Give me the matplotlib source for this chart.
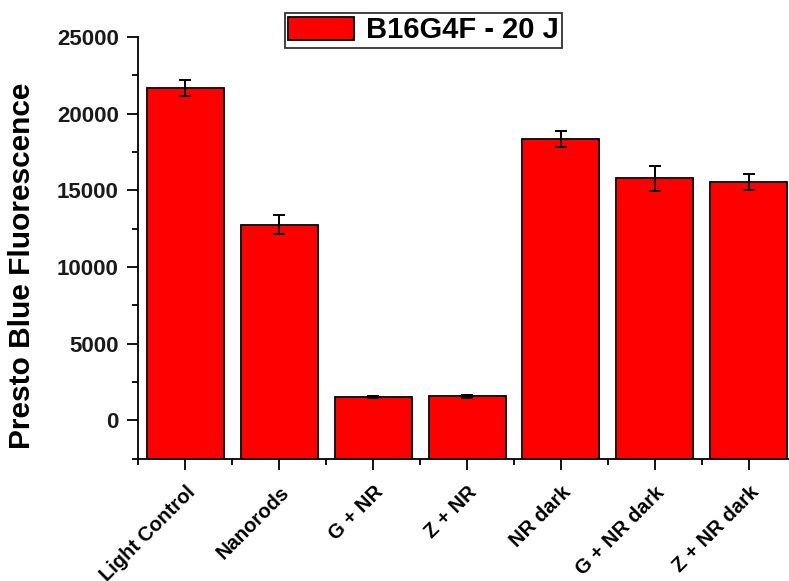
import matplotlib
matplotlib.use("Agg")
import matplotlib.pyplot as plt
from matplotlib.ticker import MultipleLocator
import numpy as np

categories = ["Light Control", "Nanorods", "G + NR", "Z + NR", "NR dark", "G + NR dark", "Z + NR dark"]
values = [21650, 12740, 1540, 1560, 18350, 15780, 15560]
errors = [520, 620, 60, 90, 510, 795, 510]
series_name = "B16G4F - 20 J"

plt.rcParams['font.family'] = ['Liberation Sans', 'DejaVu Sans']
plt.rcParams['font.weight'] = 'bold'

fig = plt.figure(figsize=(7.89, 5.81), dpi=100)
ax = fig.add_axes([138.3/789, 1-459/581, (795.8-138.3)/789, (459-37)/581])

ymin, ymax = -2525, 25000
x = np.arange(len(categories))
heights = [v - ymin for v in values]
ax.bar(x, heights, bottom=ymin, width=0.82, color='#FF0000', edgecolor='black', linewidth=1.3,
       label=series_name, zorder=2)
ax.errorbar(x, values, yerr=errors, fmt='none', ecolor='black', elinewidth=1.4,
            capsize=4, capthick=1.4, zorder=3)

ax.set_xlim(-0.5, 6.5)
ax.set_ylim(ymin, ymax)
ax.yaxis.set_major_locator(MultipleLocator(5000))
ax.yaxis.set_minor_locator(MultipleLocator(2500))
ax.set_xticks(x)
ax.set_xticks(np.arange(-0.5, 6.6, 1.0), minor=True)

ax.spines['top'].set_visible(False)
ax.spines['right'].set_visible(False)
ax.spines['left'].set_linewidth(1.3)
ax.spines['bottom'].set_linewidth(1.3)

ax.tick_params(axis='both', which='major', direction='out', length=8, width=1.3)
ax.tick_params(axis='both', which='minor', direction='out', length=4.5, width=1.3)
ax.tick_params(axis='y', which='major', labelsize=16, pad=6, labelcolor='#1a1a1a')
ax.tick_params(axis='x', which='major', pad=9)

ax.set_xticklabels(categories, rotation=45, ha='right', va='top', rotation_mode='anchor',
                   fontsize=14.5, fontweight='bold')
for lab in ax.get_yticklabels():
    lab.set_fontweight('bold')

ax.set_ylabel("Presto Blue Fluorescence", fontsize=21.5, fontweight='bold')
ax.yaxis.set_label_coords(-0.155, 0.457)

leg = ax.legend(loc='center', bbox_to_anchor=(423.5/789, 1-30.5/581),
                bbox_transform=fig.transFigure, fontsize=21, frameon=True,
                fancybox=False, handlelength=2.25, handleheight=0.85,
                borderpad=0.12, handletextpad=0.4, borderaxespad=0)
leg.get_frame().set_edgecolor('black')
leg.get_frame().set_linewidth(1.3)
for t in leg.get_texts():
    t.set_fontweight('bold')

fig.savefig("out.png", dpi=100)
